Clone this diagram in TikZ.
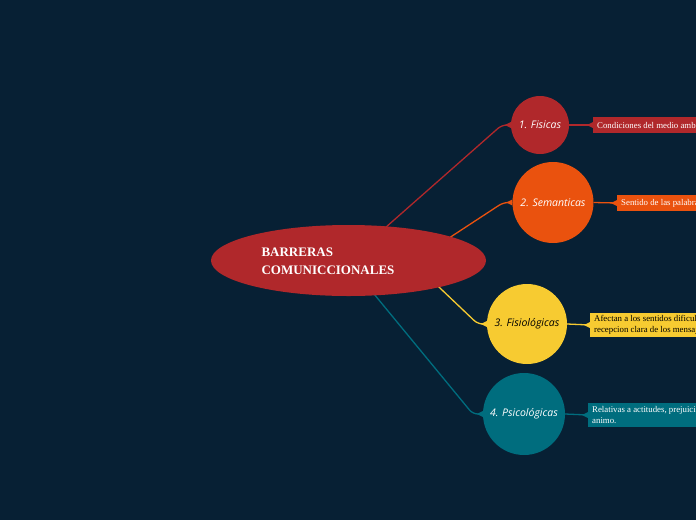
\documentclass[tikz,border=0pt]{standalone}
\usepackage{fontspec}
\setmainfont{Liberation Serif}
\newfontfamily\circfont{Open Sans}
\newfontfamily\titlefont{Liberation Serif}
\usetikzlibrary{shapes.geometric}
\definecolor{bgc}{HTML}{072034}
\definecolor{cred}{HTML}{B0282B}
\definecolor{corange}{HTML}{EA520E}
\definecolor{cyellow}{HTML}{F7CB31}
\definecolor{cteal}{HTML}{006D7E}
\pgfdeclarelayer{bglayer}
\pgfdeclarelayer{lines}
\pgfsetlayers{bglayer,lines,main}
\tikzset{
  topic/.style={circle, inner sep=0pt, font=\circfont\itshape\fontsize{10.5}{12}\selectfont},
  note/.style={rectangle, anchor=west, inner xsep=4pt, inner ysep=1pt, align=left, font=\fontsize{8.8}{11}\selectfont},
  conn/.style={line width=1.3pt, rounded corners=5pt},
}
\newcommand{\flare}[2]{\fill[#1] ([xshift=-6pt]#2) -- ([yshift=-3pt]#2) -- ([yshift=3pt]#2) -- cycle;}
\begin{document}
\begin{tikzpicture}[x=1pt,y=-1pt]
\useasboundingbox (0,0) rectangle (696,520);
\begin{pgfonlayer}{bglayer}
\fill[bgc] (0,0) rectangle (696,520);
\end{pgfonlayer}
\clip (0,0) rectangle (696,520);
% central node
\node[ellipse, fill=cred, minimum width=275pt, minimum height=71pt, inner sep=0pt] (root) at (348.5,260.5) {};
\node[anchor=west, text=white, align=left, font=\titlefont\bfseries\fontsize{13}{18}\selectfont] (title) at (258,261) {BARRERAS\\COMUNICCIONALES};
\coordinate (s1) at (360,250);
\coordinate (s2) at (420,257);
\coordinate (s3) at (420,269);
\coordinate (s4) at (360,277);
% topics
\node[topic, fill=cred, minimum size=58pt, text=white] (c1) at (540,125) {1. Fisicas};
\node[topic, fill=corange, minimum size=81pt, text=white] (c2) at (553,202.5) {2. Semanticas};
\node[topic, fill=cyellow, minimum size=80pt, text=black] (c3) at (527,324) {3. Fisiológicas};
\node[topic, fill=cteal, minimum size=82pt, text=white] (c4) at (524,414) {4. Psicológicas};
% notes
\node[note, fill=cred, text=white, minimum height=16pt] (n1) at (593,125) {Condiciones del medio ambiente};
\node[note, fill=corange, text=white, minimum height=16pt] (n2) at (617,203) {Sentido de las palabras};
\node[note, fill=cyellow, text=black, minimum height=24pt] (n3) at (590,325) {Afectan a los sentidos dificultando la\\recepcion clara de los mensajes.};
\node[note, fill=cteal, text=white, minimum height=24pt] (n4) at (588,415) {Relativas a actitudes, prejuicios, estados de\\animo.};
% connectors
\begin{pgfonlayer}{lines}
\draw[conn, cred] (s1) -- ([xshift=-9pt]c1.west) -- (c1.west);
\draw[conn, corange] (s2) -- ([xshift=-9pt]c2.west) -- (c2.west);
\draw[conn, cyellow] (s3) -- ([xshift=-9pt]c3.west) -- (c3.west);
\draw[conn, cteal] (s4) -- ([xshift=-10pt]c4.west) -- (c4.west);
\draw[conn, cred] (c1.east) -- (n1.west);
\draw[conn, corange] (c2.east) -- (n2.west);
\draw[conn, cyellow] (c3.east) -- (n3.west);
\draw[conn, cteal] (c4.east) -- (n4.west);
\flare{cred}{c1.west}
\flare{corange}{c2.west}
\flare{cyellow}{c3.west}
\flare{cteal}{c4.west}
\flare{cred}{n1.west}
\flare{corange}{n2.west}
\flare{cyellow}{n3.west}
\flare{cteal}{n4.west}
\end{pgfonlayer}
\end{tikzpicture}
\end{document}
